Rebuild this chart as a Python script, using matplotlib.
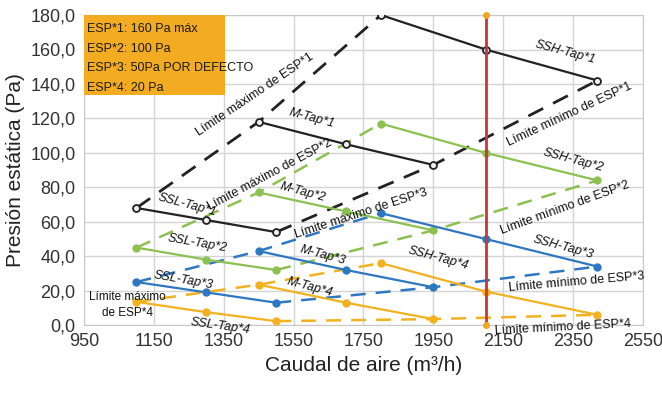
import matplotlib
matplotlib.use("Agg")
import matplotlib.pyplot as plt
from matplotlib.patches import Rectangle

# caudales (m3/h) de cada velocidad de ventilador
x_ssl = [1100, 1300, 1500]
x_m = [1450, 1700, 1950]
x_ssh = [1800, 2100, 2420]

# presión estática (Pa) por ajuste ESP
esp1_ssl = [68, 61, 54]
esp1_m = [118, 105, 93]
esp1_ssh = [180, 160, 142]

esp2_ssl = [45, 38, 32]
esp2_m = [77, 66, 55]
esp2_ssh = [117, 100, 84]

esp3_ssl = [25, 19, 13]
esp3_m = [43, 32, 22]
esp3_ssh = [65, 50, 34]

esp4_ssl = [13.5, 7.5, 2.3]
esp4_m = [23.5, 13, 3.5]
esp4_ssh = [36, 19.5, 6]

caudal_nominal = 2100
legend_lines = ["ESP*1: 160 Pa máx", "ESP*2: 100 Pa",
                "ESP*3: 50Pa POR DEFECTO", "ESP*4: 20 Pa"]

x_ticks = list(range(950, 2551, 200))
y_ticks = list(range(0, 181, 20))

FONT = ["Liberation Sans Narrow", "Liberation Sans", "DejaVu Sans"]
plt.rcParams["font.family"] = FONT

fig = plt.figure(figsize=(6.62, 3.96), dpi=100)
ax = fig.add_axes([0.127, 0.179, 0.844, 0.783])

series = [
    (esp1_ssl, esp1_m, esp1_ssh, "#222222", True),
    (esp2_ssl, esp2_m, esp2_ssh, "#8cc152", False),
    (esp3_ssl, esp3_m, esp3_ssh, "#2e78c2", False),
    (esp4_ssl, esp4_m, esp4_ssh, "#f2b21f", False),
]

for ssl, m, ssh, col, hueco in series:
    lw_dash = 2.0 if hueco else 1.8
    # límites máximo y mínimo (discontinuos)
    ax.plot([x_ssl[0], x_m[0], x_ssh[0]], [ssl[0], m[0], ssh[0]],
            color=col, lw=lw_dash, dashes=(6, 4), zorder=2)
    ax.plot([x_ssl[-1], x_m[-1], x_ssh[-1]], [ssl[-1], m[-1], ssh[-1]],
            color=col, lw=lw_dash, dashes=(6, 4), zorder=2)
    for xs, ys in [(x_ssl, ssl), (x_m, m), (x_ssh, ssh)]:
        if hueco:
            ax.plot(xs, ys, color=col, lw=1.6, marker="o", ms=5,
                    mfc="#f4eeee", mec=col, mew=1.3, zorder=3)
        else:
            ax.plot(xs, ys, color=col, lw=1.6, marker="o", ms=5,
                    mfc=col, mec=col, zorder=3)

# línea de caudal nominal
ax.plot([caudal_nominal, caudal_nominal], [0, 180], color="#c8363a", lw=2, zorder=4)
ax.plot([caudal_nominal, caudal_nominal], [0, 180], ls="none", marker="o",
        ms=4, color="#f2a51f", zorder=5, clip_on=False)

# etiquetas
labels = [
    ("SSH-Tap*1", 2327, 158.5, -15, True),
    ("Límite mínimo de ESP*1", 2341, 122, 25, False),
    ("Límite máximo de ESP*1", 1439, 133.5, 34, False),
    ("M-Tap*1", 1602, 120, -15, True),
    ("Límite máximo de ESP*2", 1482, 87, 28, False),
    ("M-Tap*2", 1577, 77, -15, True),
    ("SSL-Tap*1", 1245, 69.7, -15, True),
    ("SSH-Tap*2", 2350, 95.8, -15, True),
    ("Límite máximo de ESP*3", 1743, 64.4, 18, False),
    ("Límite mínimo de ESP*2", 2327, 68, 20, False),
    ("SSL-Tap*2", 1273, 47.6, -10, True),
    ("M-Tap*3", 1634, 40.6, -15, True),
    ("SSL-Tap*3", 1233, 26, -10, True),
    ("SSH-Tap*4", 1963, 39, -15, True),
    ("SSH-Tap*3", 2321, 45.3, -15, True),
    ("M-Tap*4", 1597, 22, -15, True),
    ("Límite mínimo de ESP*3", 2361, 25, 5, False),
    ("SSL-Tap*4", 1339, -0.6, -8, True),
    ("Límite mínimo de ESP*4", 2321, -1.2, 3, False),
]
for txt, x, y, rot, it in labels:
    ax.text(x, y, txt, rotation=rot, ha="center", va="center", fontsize=9,
            style="italic" if it else "normal", color="#111111", zorder=6,
            rotation_mode="anchor", clip_on=False)
ax.text(1073, 11.6, "Límite máximo\nde ESP*4", ha="center", va="center",
        fontsize=8.5, color="#111111", zorder=6, linespacing=1.5)

# cuadro de ajustes ESP
ax.add_patch(Rectangle((0, 0.742), 0.252, 0.258, transform=ax.transAxes,
                       facecolor="#f3ab22", edgecolor="none", zorder=7))
for i, t in enumerate(legend_lines):
    ax.text(0.006, 0.955 - i * 0.063, t, transform=ax.transAxes, fontsize=9,
            va="center", ha="left", color="#1a1a1a", zorder=8)

ax.set_xlim(950, 2550)
ax.set_ylim(0, 180)
ax.set_xticks(x_ticks)
ax.set_yticks(y_ticks)
ax.set_yticklabels([f"{v:.1f}".replace(".", ",") for v in y_ticks])
ax.tick_params(length=0, labelsize=13, colors="#333333", pad=6)
ax.grid(True, color="#d4d4d4", lw=1)
ax.set_axisbelow(True)
for s in ax.spines.values():
    s.set_color("#c8c8c8")

ax.set_xlabel("Caudal de aire (m³/h)", fontsize=15, color="#222222", labelpad=4)
ax.set_ylabel("Presión estática (Pa)", fontsize=15, color="#222222", labelpad=4)

fig.savefig("out.png", dpi=100)
